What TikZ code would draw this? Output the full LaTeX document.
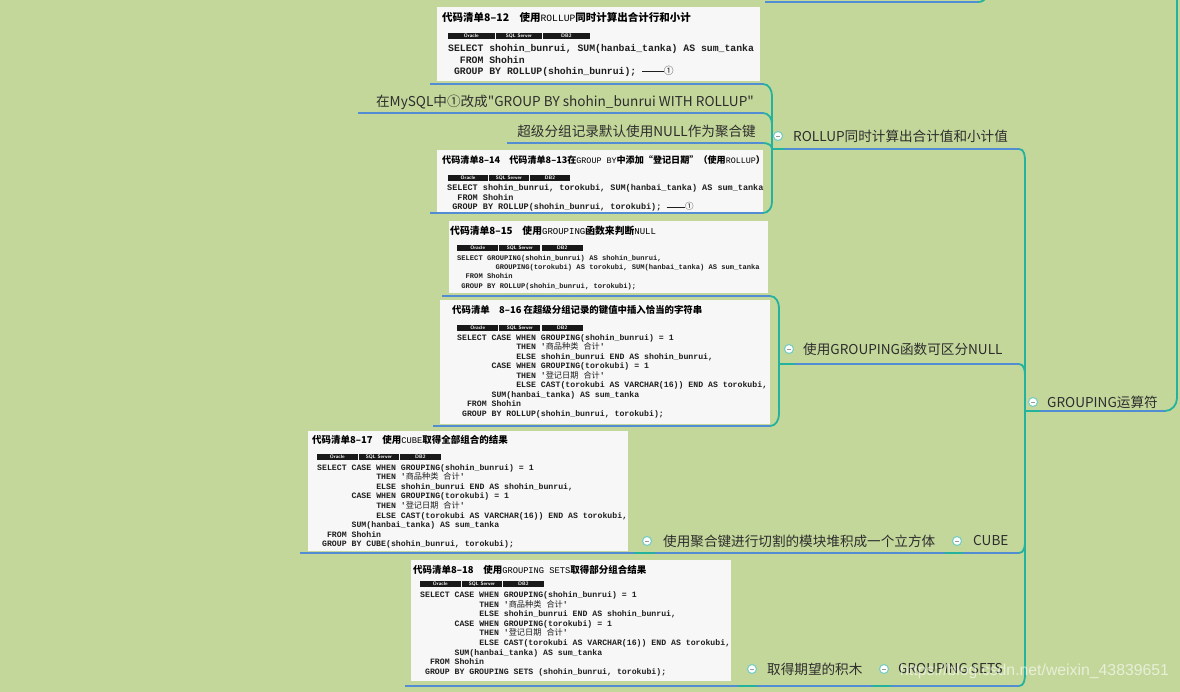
\documentclass[tikz,border=0pt]{standalone}
\usepackage{fontspec}
\usepackage{graphicx}
\setmainfont{Noto Sans CJK SC}
\newfontfamily\cjk{Noto Sans CJK SC}
\newfontfamily\codefont[Ligatures=TeXOff]{Liberation Mono}
\newfontfamily\tlat{Liberation Mono}
\newfontfamily\wmfont{Liberation Sans}
\definecolor{bgc}{RGB}{196,215,155}
\definecolor{ulblue}{RGB}{82,140,210}
\definecolor{mmteal}{RGB}{34,178,158}
\definecolor{txtc}{RGB}{45,45,45}
\definecolor{bulletc}{RGB}{120,205,195}
\newcommand\ind[1]{\hspace*{#1\fontcharwd\font`M}}
\newcommand\cj[1]{{\cjk\mdseries #1}}
\newcommand\tls[1]{\scalebox{0.92}{\tlat\mdseries #1}}
\newcommand\circled{\rule[0.3em]{2.2em}{0.07em}\cj{①}}
\newcommand\seg[2]{\colorbox{black!90}{\makebox[#1][c]{\rule[-2pt]{0pt}{6.6pt}\textcolor{white}{\sffamily\bfseries\fontsize{5}{5}\selectfont #2}}}}
\newcommand\badge[1]{{\setlength\fboxsep{0pt}\seg{#1}{Oracle}\hspace{1.2pt}\seg{#1}{SQL Server}\hspace{1.2pt}\seg{#1}{DB2}}}
\newcommand\casebody{SELECT CASE WHEN GROUPING(shohin\_bunrui) = 1\\\ind{12}THEN '\cj{商品种类}~\cj{合计}'\\\ind{12}ELSE shohin\_bunrui END AS shohin\_bunrui,\\\ind{7}CASE WHEN GROUPING(torokubi) = 1\\\ind{12}THEN '\cj{登记日期}~\cj{合计}'\\\ind{12}ELSE CAST(torokubi AS VARCHAR(16)) END AS torokubi,\\\ind{7}SUM(hanbai\_tanka) AS sum\_tanka\\\ind{2}FROM Shohin\\}
\tikzset{
  mm/.style={font=\cjk\fontsize{13.6}{16}\selectfont, text=txtc, inner sep=0pt},
  codebg/.style={fill=white!97!black, inner sep=0pt, anchor=north west},
  ttl/.style={font=\cjk\bfseries\fontsize{#1}{#1}\selectfont, text=black, inner sep=0pt, anchor=base west},
  code/.style 2 args={font=\codefont\bfseries\fontsize{#1}{#2}\selectfont, align=left, inner sep=0pt, anchor=north west, text=black!88, execute at begin node={\rule{0pt}{0.9em}}},
  badgen/.style={inner sep=0pt, anchor=west},
  ul/.style={draw=ulblue, line width=2.2pt},
  conn/.style={draw=mmteal, line width=1.8pt},
  bul/.style={circle, draw=bulletc, fill=white, line width=1.1pt, minimum size=9pt, inner sep=0pt,
    path picture={\draw[gray!80, line width=0.8pt] ([xshift=-2pt]path picture bounding box.center) -- ([xshift=2pt]path picture bounding box.center);}}
}
\begin{document}
\begin{tikzpicture}[x=1pt,y=-1pt]
\path[fill=bgc, use as bounding box] (0,0) rectangle (1180,692);

% ---------- code boxes ----------
\node[codebg, minimum width=323, minimum height=74] (a12bg) at (437,7) {};
\node[ttl=10.5] (a12t) at (442,22) {代码清单8–12\hspace{1em}使用\tls{ROLLUP}同时计算出合计行和小计};
\node[badgen] (a12b) at (448,36) {\badge{46.3pt}};
\node[code={9.8}{11.5}] (a12c) at (448,44.6) {SELECT shohin\_bunrui, SUM(hanbai\_tanka) AS sum\_tanka\\\ind{2}FROM Shohin\\\ind{1}GROUP BY ROLLUP(shohin\_bunrui); \circled};

\node[codebg, minimum width=326, minimum height=62] (a14bg) at (437,150) {};
\node[ttl=9.1] (a14t) at (442,164) {代码清单8–14\hspace{1em}代码清单8–13在\tls{GROUP BY}中添加“登记日期”（使用\tls{ROLLUP}）};
\node[badgen] (a14b) at (448,178) {\badge{39.7pt}};
\node[code={8.5}{9.7}] (a14c) at (447,184) {SELECT shohin\_bunrui, torokubi, SUM(hanbai\_tanka) AS sum\_tanka\\\ind{2}FROM Shohin\\\ind{1}GROUP BY ROLLUP(shohin\_bunrui, torokubi); \circled};

\node[codebg, minimum width=319, minimum height=72] (a15bg) at (449,221) {};
\node[ttl=9.8] (a15t) at (450,234.5) {代码清单8–15\hspace{1em}使用\tls{GROUPING}函数来判断\tls{NULL}};
\node[badgen] (a15b) at (457,248) {\badge{41pt}};
\node[code={7.1}{9.3}] (a15c) at (457,255) {SELECT GROUPING(shohin\_bunrui) AS shohin\_bunrui,\\\ind{9}GROUPING(torokubi) AS torokubi, SUM(hanbai\_tanka) AS sum\_tanka\\\ind{2}FROM Shohin\\\ind{1}GROUP BY ROLLUP(shohin\_bunrui, torokubi);};

\node[codebg, minimum width=330, minimum height=124] (a16bg) at (440,300) {};
\node[ttl=9.4] (a16t) at (452,313.5) {代码清单\hspace{1em}8–16 在超级分组记录的键值中插入恰当的字符串};
\node[badgen] (a16b) at (457,328) {\badge{41pt}};
\node[code={8.2}{9.5}] (a16c) at (457,334.3) {\casebody\ind{1}GROUP BY ROLLUP(shohin\_bunrui, torokubi);};

\node[codebg, minimum width=320, minimum height=120] (a17bg) at (308,431) {};
\node[ttl=9.5] (a17t) at (312,443.5) {代码清单8–17\hspace{1em}使用\tls{CUBE}取得全部组合的结果};
\node[badgen] (a17b) at (317,457) {\badge{40.3pt}};
\node[code={8.2}{9.6}] (a17c) at (317,464) {\casebody\ind{1}GROUP BY CUBE(shohin\_bunrui, torokubi);};

\node[codebg, minimum width=320, minimum height=121] (a18bg) at (411,560) {};
\node[ttl=9.5] (a18t) at (413,573.5) {代码清单8–18\hspace{1em}使用\tls{GROUPING SETS}取得部分组合结果};
\node[badgen] (a18b) at (420,584) {\badge{40.3pt}};
\node[code={8.2}{9.6}] (a18c) at (420,591.4) {\casebody\ind{1}GROUP BY GROUPING SETS (shohin\_bunrui, torokubi);};

% ---------- mind map labels ----------
\node[mm, anchor=west] (rollup) at (793,136) {ROLLUP同时计算出合计值和小计值};
\node[mm, anchor=east] (mysql) at (754,102) {在MySQL中①改成"GROUP BY shohin\_bunrui WITH ROLLUP"};
\node[mm, anchor=east] (super) at (756,131) {超级分组记录默认使用NULL作为聚合键};
\node[mm, anchor=west] (gfun) at (803,349) {使用GROUPING函数可区分NULL};
\node[mm, anchor=west] (gop) at (1047,402) {GROUPING运算符};
\node[mm, anchor=west] (cubec) at (663,541) {使用聚合键进行切割的模块堆积成一个立方体};
\node[mm, anchor=west] (cube) at (973,541) {CUBE};
\node[mm, anchor=west] (want) at (767,669) {取得期望的积木};
\node[mm, anchor=west] (sets) at (898,669) {GROUPING SETS};

% ---------- coordinates ----------
\coordinate (tlL) at (765,2); \coordinate (tlR) at (978,2); \coordinate (tlT) at (986,-4);
\coordinate (u12L) at (430,84); \coordinate (u12R) at (763,84);
\coordinate (umyL) at (358,113); \coordinate (umyR) at (763,113);
\coordinate (usuL) at (507,143); \coordinate (usuR) at (763,143);
\coordinate (u14L) at (430,213); \coordinate (u14R) at (763,213);
\coordinate (J1) at (772,149); \coordinate (urL) at (785,149); \coordinate (urR) at (1019,149);
\coordinate (u15L) at (442,296); \coordinate (u15R) at (770,296);
\coordinate (u16L) at (433,426); \coordinate (u16R) at (770,426);
\coordinate (J2) at (779,364); \coordinate (ugL) at (795,364); \coordinate (ugR) at (1019,364);
\coordinate (u17L) at (300,553); \coordinate (J4) at (634,553); \coordinate (ucL) at (655,553);
\coordinate (J3) at (945,553); \coordinate (ucbL) at (963,553); \coordinate (ucbR) at (1019,553);
\coordinate (u18L) at (405,686); \coordinate (J6) at (738,686); \coordinate (uwL) at (757,686);
\coordinate (J5) at (872,686); \coordinate (usL) at (891,686); \coordinate (usR) at (1019,686);
\coordinate (J0) at (1025,411); \coordinate (uoL) at (1040,411); \coordinate (uoR) at (1165,411);
\coordinate (topR) at (1177,-3);

% ---------- teal connectors ----------
\draw[conn] (tlR) to[out=0,in=270] (tlT);
\draw[conn] (u12R) to[out=0,in=90] (772,96) -- (J1);
\draw[conn] (umyR) to[out=0,in=90] (772,124) -- (J1);
\draw[conn] (usuR) to[out=0,in=90] (J1);
\draw[conn] (u14R) to[out=0,in=270] (772,202) -- (J1);
\draw[conn] (J1) -- (urL);
\draw[conn] (u15R) to[out=0,in=90] (779,308) -- (J2);
\draw[conn] (u16R) to[out=0,in=270] (779,414) -- (J2);
\draw[conn] (J2) -- (ugL);
\draw[conn] (urR) to[out=0,in=90] (1025,161) -- (J0);
\draw[conn] (ugR) to[out=0,in=90] (1025,376) -- (J0);
\draw[conn] (ucbR) to[out=0,in=270] (1025,541) -- (J0);
\draw[conn] (usR) to[out=0,in=270] (1025,674) -- (J0);
\draw[conn] (J0) -- (uoL);
\draw[conn] (uoR) to[out=0,in=270] (1177,398) -- (topR);
\draw[conn] (J4) -- (ucL);
\draw[conn] (J3) -- (ucbL);
\draw[conn] (J6) -- (uwL);
\draw[conn] (J5) -- (usL);

% ---------- blue underlines ----------
\draw[ul] (tlL) -- (tlR);
\draw[ul] (u12L) -- (u12R);
\draw[ul] (umyL) -- (umyR);
\draw[ul] (usuL) -- (usuR);
\draw[ul] (u14L) -- (u14R);
\draw[ul] (urL) -- (urR);
\draw[ul] (u15L) -- (u15R);
\draw[ul] (u16L) -- (u16R);
\draw[ul] (ugL) -- (ugR);
\draw[ul] (u17L) -- (J4);
\draw[ul] (ucL) -- (J3);
\draw[ul] (ucbL) -- (ucbR);
\draw[ul] (u18L) -- (J6);
\draw[ul] (uwL) -- (J5);
\draw[ul] (usL) -- (usR);
\draw[ul] (uoL) -- (uoR);

% ---------- bullets ----------
\node[bul] (b1) at (778,136) {};
\node[bul] (b2) at (789,349) {};
\node[bul] (b3) at (1033,402) {};
\node[bul] (b4) at (647,541) {};
\node[bul] (b5) at (957,541) {};
\node[bul] (b6) at (752,669) {};
\node[bul] (b7) at (884,669) {};

% ---------- watermark ----------
\node[anchor=west, font=\wmfont\fontsize{15.8}{16}\selectfont, text=white, opacity=0.6, inner sep=0pt] (wm) at (900,671) {https://blog.csdn.net/weixin\_43839651};
\end{tikzpicture}
\end{document}
